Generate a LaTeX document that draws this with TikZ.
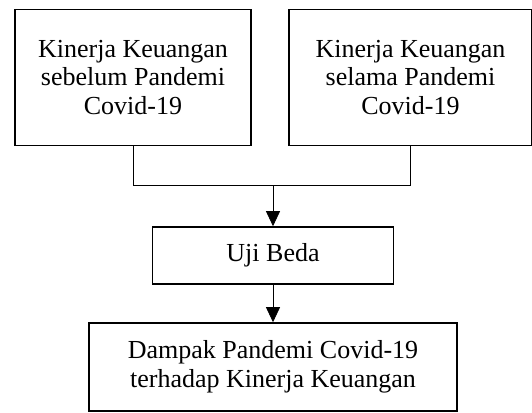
\documentclass[tikz,border=0pt]{standalone}
\usepackage{fontspec}
\setmainfont{Liberation Serif}
\usepackage{tikz}
\usetikzlibrary{arrows.meta}

\begin{document}
\begin{tikzpicture}[x=1pt,y=-1pt,
	box/.style={draw,line width=1.6pt,inner sep=0pt,align=center,
		font=\fontsize{26}{28.5}\selectfont},
	link/.style={line width=0.8pt},
	arrow/.style={link,-{Triangle[width=14pt,length=15pt]}}]
	\useasboundingbox (0,0) rectangle (532,412);

	\node[box,minimum width=236pt,minimum height=136pt] (before) at (133,77.5) {Kinerja Keuangan\\sebelum Pandemi\\Covid-19};
	\node[box,minimum width=243pt,minimum height=136pt] (during) at (410.5,77.5) {Kinerja Keuangan\\selama Pandemi\\Covid-19};
	\node[box,minimum width=241pt,minimum height=57pt] (test) at (273,255.5) {Uji Beda};
	\node[box,minimum width=368pt,minimum height=88pt] (impact) at (273,367) {Dampak Pandemi Covid-19\\terhadap Kinerja Keuangan};

	\coordinate (join) at (273,185);
	\draw[link] (before.south) |- (join);
	\draw[link] (during.south) |- (join);
	\draw[arrow] (join) -- (test.north);
	\draw[arrow] (test.south) -- (impact.north);
\end{tikzpicture}
\end{document}
